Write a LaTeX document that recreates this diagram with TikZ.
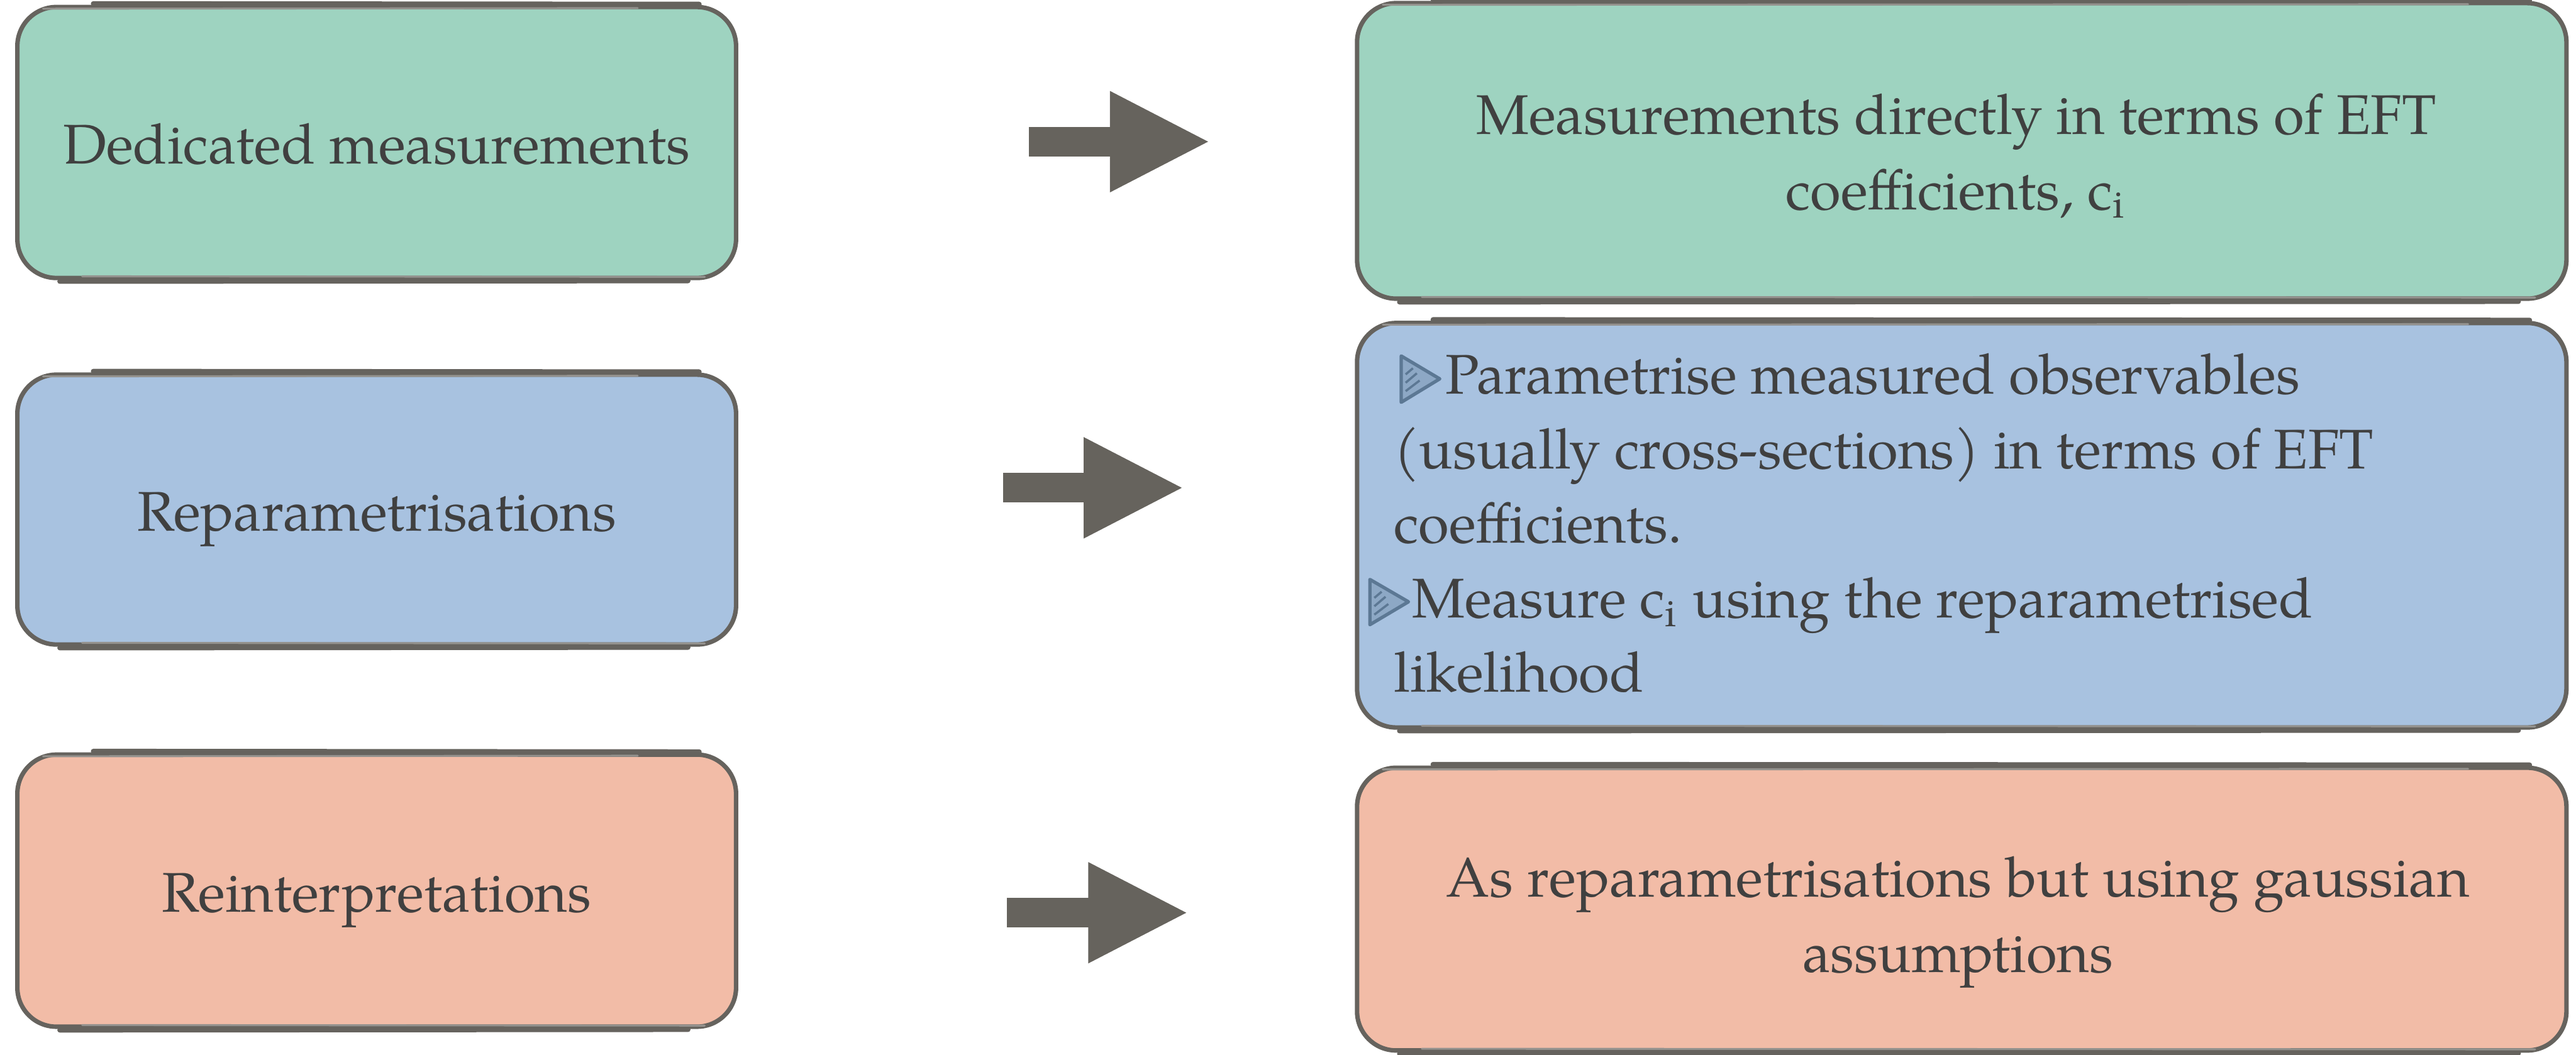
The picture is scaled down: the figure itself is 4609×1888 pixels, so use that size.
\documentclass[tikz,border=0pt]{standalone}
\usepackage{fontspec}
\setmainfont{TeX Gyre Pagella}
\usetikzlibrary{arrows.meta}
\definecolor{greenbox}{RGB}{158,211,192}
\definecolor{bluebox}{RGB}{168,194,224}
\definecolor{salmonbox}{RGB}{242,188,167}
\definecolor{edgecol}{RGB}{102,99,94}
\definecolor{ink}{RGB}{64,64,64}
\definecolor{arrowcol}{RGB}{102,99,93}
\definecolor{bulcol}{RGB}{92,120,148}
\tikzset{
  box/.style={draw=edgecol, line width=0.8pt, rounded corners=7pt, inner sep=0pt},
  leftbox/.style={box, minimum width=128.6pt, minimum height=48.5pt,
    text=ink, font=\fontsize{10}{13.4}\selectfont, text height=7.7pt, text depth=0pt},
  rightbox/.style={box, minimum width=216.4pt},
  txtline/.style={text=ink, font=\fontsize{10}{13.4}\selectfont, inner sep=0pt},
  bigarrow/.style={draw=arrowcol, line width=5.3pt, -{Triangle[length=18pt,width=16.7pt]}},
  bullettri/.style={draw=bulcol, line width=0.6pt, fill=bulcol!35!bluebox, line join=round},
  hatch/.style={draw=bulcol, line width=0.4pt},
  edgestroke/.style={draw=edgecol, line width=0.9pt, line cap=round},
  edgethin/.style={draw=edgecol!70, line width=0.35pt, line cap=round},
}
\begin{document}
\begin{tikzpicture}[x=0.1pt,y=-0.1pt]
\useasboundingbox (0,0) rectangle (4609,1888);
% left boxes
\node[leftbox, fill=greenbox] (l1) at (674,255) {Dedicated measurements};
\node[leftbox, fill=bluebox, minimum height=48.3pt] (l2) at (674,912) {Reparametrisations};
\node[leftbox, fill=salmonbox, minimum height=48.7pt] (l3) at (674,1594) {Reinterpretations};
% right boxes
\node[rightbox, fill=greenbox, minimum height=52.9pt] (r1) at (3510,270) {};
\node[rightbox, fill=bluebox, minimum height=72.4pt] (r2) at (3510,940) {};
\node[rightbox, fill=salmonbox, minimum height=50.6pt] (r3) at (3510,1627) {};
% sketchy extra strokes along top and bottom edges
\foreach \b in {l1,l2,l3,r1,r2,r3}{
  \draw[edgestroke] ([xshift=14pt,yshift=0.2pt]\b.north west) -- ([xshift=-7pt,yshift=0.1pt]\b.north east);
  \draw[edgethin] ([xshift=5pt,yshift=-0.7pt]\b.north west) -- ([xshift=-18pt,yshift=-0.6pt]\b.north east);
  \draw[edgestroke] ([xshift=8pt,yshift=-0.2pt]\b.south west) -- ([xshift=-9pt,yshift=-0.1pt]\b.south east);
  \draw[edgethin] ([xshift=12pt,yshift=0.7pt]\b.south west) -- ([xshift=-6pt,yshift=0.6pt]\b.south east);
}
% right box texts
\node[txtline, anchor=base] (r1a) at (3500,240) {Measurements directly in terms of EFT};
\node[txtline, anchor=base] (r1b) at (3500,375) {coefficients, c\textsubscript{i}};
\node[txtline, anchor=base west] (r2a) at (2584,705) {Parametrise measured observables};
\node[txtline, anchor=base west] (r2b) at (2492,839) {(usually cross-sections) in terms of EFT};
\node[txtline, anchor=base west] (r2c) at (2492,972) {coefficients.};
\node[txtline, anchor=base west] (r2d) at (2525,1106) {Measure c\textsubscript{i} using the reparametrised};
\node[txtline, anchor=base west] (r2e) at (2492,1238) {likelihood};
\node[txtline, anchor=base] (r3a) at (3503,1605) {As reparametrisations but using gaussian};
\node[txtline, anchor=base] (r3b) at (3503,1740) {assumptions};
% bullets
\path[bullettri] (2507,637) -- (2576,678) -- (2507,720) -- cycle;
\draw[hatch] (2515,700) -- (2540,681);
\draw[hatch] (2515,685) -- (2535,668);
\draw[hatch] (2515,670) -- (2528,659);
\path[bullettri] (2451,1037) -- (2520,1077) -- (2451,1118) -- cycle;
\draw[hatch] (2459,1100) -- (2484,1081);
\draw[hatch] (2459,1085) -- (2479,1068);
\draw[hatch] (2459,1070) -- (2472,1059);
% arrows
\coordinate (a1s) at (1841,253.5);
\coordinate (a1e) at (2166,253.5);
\coordinate (a2s) at (1795,873);
\coordinate (a2e) at (2119,873);
\coordinate (a3s) at (1802,1633.5);
\coordinate (a3e) at (2127,1633.5);
\draw[bigarrow] (a1s) -- (a1e);
\draw[bigarrow] (a2s) -- (a2e);
\draw[bigarrow] (a3s) -- (a3e);
\end{tikzpicture}
\end{document}
